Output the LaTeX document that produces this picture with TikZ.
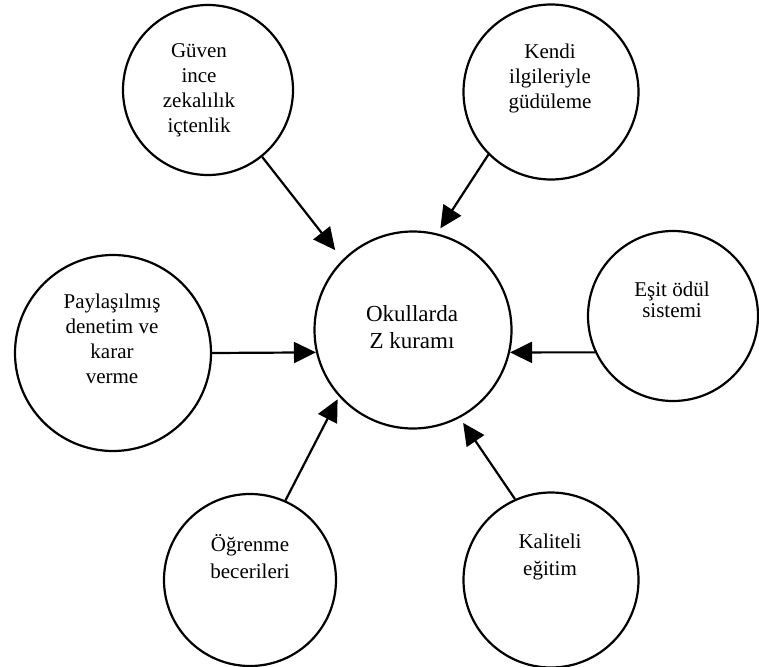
\documentclass[tikz,border=0pt]{standalone}
\usepackage{fontspec}
\setmainfont{Liberation Serif}
\usetikzlibrary{arrows.meta}
\tikzset{
  bubble/.style={circle, draw, line width=2.2pt, inner sep=0pt},
  btext/.style={align=center, inner sep=0pt, font=\fontsize{21}{25}\selectfont},
  hubtext/.style={align=center, inner sep=0pt, font=\fontsize{23}{27}\selectfont},
  arr/.style={-{Triangle[length=22pt, width=21pt]}, line width=2.2pt},
}

\begin{document}
\begin{tikzpicture}[x=1pt, y=-1pt]
  \useasboundingbox (0,0) rectangle (759,666);
  % centre
  \node[bubble, minimum size=197pt] (hub) at (413,330) {};
  \node[hubtext] (hubT) at (412,327) {Okullarda\\Z kuramı};
  % outer circles
  \node[bubble, minimum size=170pt] (guven) at (208,90) {};
  \node[btext] (guvenT) at (199,90) {Güven\\ince\\zekalılık\\içtenlik};
  \node[bubble, minimum size=175pt] (kendi) at (551,92) {};
  \node[btext] (kendiT) at (550,78) {Kendi\\ilgileriyle\\güdüleme};
  \node[bubble, minimum size=196pt] (paylas) at (113,353) {};
  \node[btext] (paylasT) at (112,339) {Paylaşılmış\\denetim ve\\karar\\verme};
  \node[bubble, minimum size=170pt] (esit) at (673,316) {};
  \node[btext, font=\fontsize{21}{21}\selectfont] (esitT) at (672,300) {Eşit ödül\\sistemi};
  \node[bubble, minimum size=172pt] (ogrenme) at (250,580) {};
  \node[btext, font=\fontsize{21}{27}\selectfont] (ogrenmeT) at (250,557) {Öğrenme\\becerileri};
  \node[bubble, minimum size=175pt] (kalite) at (551,580) {};
  \node[btext, font=\fontsize{21}{27}\selectfont] (kaliteT) at (550,557) {Kaliteli\\eğitim};
  % arrows to centre
  \draw[arr, shorten >=12pt] (guven.-51) -- (hub.135);
  \draw[arr, shorten >=6pt] (kendi.-135) -- (hub.76);
  \draw[arr] (paylas.east) -- (hub.193);
  \draw[arr] (esit.205) -- (hub.-13);
  \draw[arr, shorten >=3pt] (ogrenme.66) -- (hub.222);
  \draw[arr, shorten >=6pt] (kalite.114) -- (hub.-62);
\end{tikzpicture}
\end{document}
